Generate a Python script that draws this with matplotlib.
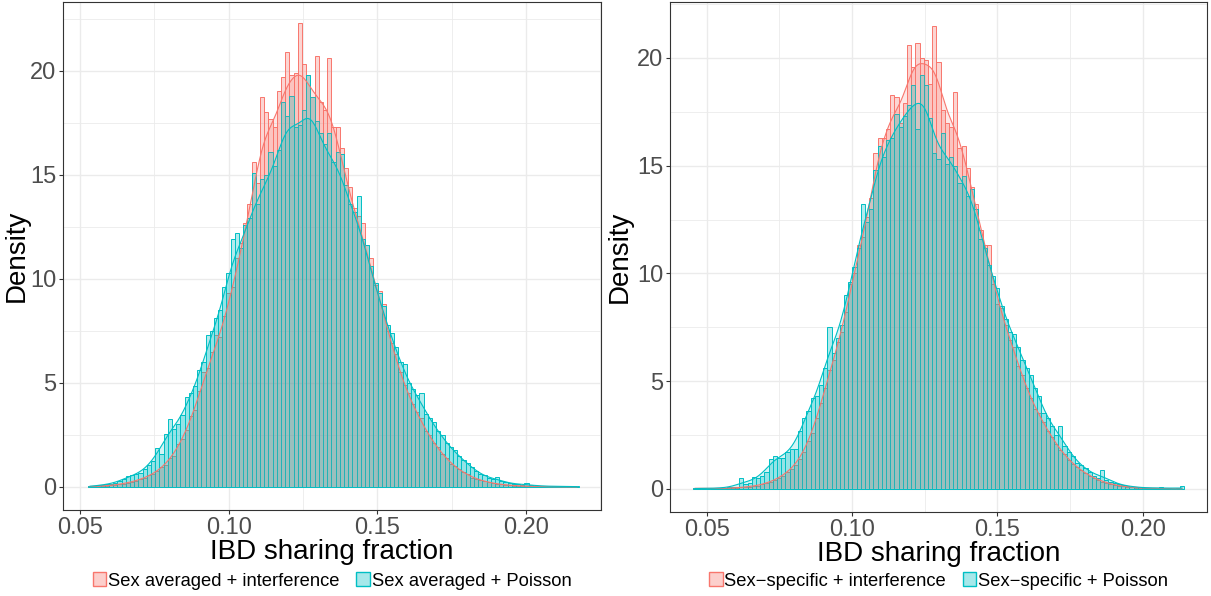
import numpy as np
import matplotlib
matplotlib.use("Agg")
import matplotlib.pyplot as plt
from matplotlib.patches import Patch
from matplotlib.ticker import MultipleLocator
from matplotlib.colors import to_rgba

plt.rcParams["font.family"] = ["Liberation Sans", "DejaVu Sans"]

RED = "#F8766D"
CYAN = "#00BFC4"

# ---- left panel: sex averaged maps (density per bin, 117 bins) ----
left_range = (0.0527, 0.2178)
left_interf = [
    0.05, 0.0, 0.03, 0.05, 0.06, 0.08, 0.10, 0.12, 0.16, 0.20,
    0.25, 0.30, 0.38, 0.42, 0.55, 0.62, 0.75, 0.95, 1.05, 1.40,
    1.50, 2.05, 2.30, 2.75, 3.40, 3.70, 4.60, 5.50, 5.70, 6.50,
    7.30, 7.20, 8.20, 9.30, 9.60, 11.0, 11.7, 12.7, 13.6, 15.6,
    14.6, 18.75, 18.0, 17.7, 17.3, 19.0, 19.7, 20.9, 19.8, 19.9,
    22.3, 20.3, 19.8, 18.75, 20.7, 18.5, 18.1, 20.6, 17.3, 17.3,
    16.3, 15.3, 14.4, 13.4, 13.0, 12.7, 11.6, 11.0, 9.7, 9.4,
    8.8, 7.5, 6.9, 6.4, 5.5, 4.9, 4.5, 4.0, 3.6, 3.3,
    2.7, 2.5, 2.1, 1.9, 1.6, 1.4, 1.1, 1.0, 0.85, 0.70,
    0.60, 0.45, 0.40, 0.33, 0.28, 0.22, 0.18, 0.14, 0.12, 0.10,
    0.08, 0.06, 0.05, 0.05, 0.04, 0.03, 0.03, 0.02, 0.02, 0.01,
    0.01, 0.01, 0.0, 0.01, 0.0, 0.0, 0.01,
]
left_poisson = [
    0.03, 0.05, 0.07, 0.10, 0.12, 0.16, 0.20, 0.26, 0.40, 0.52,
    0.55, 0.62, 0.68, 0.85, 1.05, 1.25, 1.85, 1.60, 2.55, 3.25,
    2.80, 3.00, 3.45, 4.30, 4.50, 4.85, 5.60, 6.00, 7.30, 7.50,
    8.10, 8.50, 9.60, 10.3, 11.9, 12.2, 11.5, 12.6, 12.9, 15.1,
    13.6, 14.8, 15.0, 16.1, 15.4, 16.2, 18.5, 17.8, 18.8, 17.3,
    17.4, 18.1, 19.8, 18.75, 17.6, 17.0, 16.5, 17.0, 15.6, 16.1,
    16.0, 14.5, 13.6, 13.2, 14.0, 11.9, 11.6, 10.6, 9.8, 9.3,
    8.7, 7.8, 7.4, 6.7, 6.0, 5.9, 5.0, 4.7, 4.4, 4.5,
    3.5, 3.3, 3.1, 2.7, 2.5, 2.1, 1.9, 1.75, 1.5, 1.3,
    1.15, 0.95, 0.77, 0.62, 0.55, 0.42, 0.38, 0.48, 0.27, 0.22,
    0.18, 0.15, 0.12, 0.10, 0.19, 0.07, 0.06, 0.04, 0.05, 0.03,
    0.04, 0.02, 0.02, 0.04, 0.01, 0.02, 0.03,
]

# ---- right panel: sex-specific maps ----
right_range = (0.0453, 0.2142)
right_interf = [
    0.05, 0.05, 0.0, 0.01, 0.0, 0.02, 0.01, 0.02, 0.03, 0.03,
    0.05, 0.06, 0.08, 0.10, 0.12, 0.15, 0.20, 0.25, 0.33, 0.40,
    0.50, 0.60, 0.80, 0.90, 1.10, 1.40, 1.70, 2.20, 2.60, 3.30,
    4.00, 4.70, 5.50, 6.00, 6.80, 7.30, 8.20, 9.50, 10.0, 11.3,
    11.7, 12.6, 13.5, 15.6, 16.3, 16.3, 16.7, 18.3, 18.2, 17.0,
    17.9, 20.6, 19.6, 20.7, 20.0, 19.9, 18.8, 21.5, 19.8, 17.6,
    17.0, 16.8, 18.4, 15.8, 15.9, 14.9, 14.0, 13.2, 12.0, 11.3,
    11.3, 9.5, 8.6, 8.4, 7.6, 6.9, 6.6, 5.7, 5.3, 4.7,
    4.2, 3.7, 3.5, 3.1, 2.7, 2.4, 2.1, 1.8, 1.6, 1.35,
    1.15, 1.0, 0.85, 0.72, 0.60, 0.50, 0.42, 0.33, 0.28, 0.22,
    0.18, 0.14, 0.11, 0.09, 0.07, 0.05, 0.05, 0.03, 0.02, 0.02,
    0.01, 0.01, 0.01, 0.0, 0.0, 0.0, 0.01,
]
right_poisson = [
    0.03, 0.0, 0.02, 0.01, 0.03, 0.02, 0.04, 0.05, 0.06, 0.08,
    0.10, 0.50, 0.20, 0.25, 0.55, 0.48, 0.60, 0.80, 1.40, 1.50,
    1.45, 1.45, 1.70, 1.85, 1.85, 2.70, 3.30, 3.60, 4.20, 4.30,
    4.80, 5.60, 7.50, 6.30, 7.00, 7.60, 9.00, 9.60, 10.3, 11.2,
    13.2, 12.4, 13.0, 14.8, 15.9, 15.4, 16.2, 16.3, 17.4, 16.8,
    17.3, 17.8, 18.75, 16.7, 19.2, 18.75, 17.2, 15.6, 15.3, 16.5,
    15.1, 15.4, 15.0, 14.2, 14.5, 13.6, 13.9, 13.0, 11.6, 11.2,
    10.4, 9.9, 9.3, 8.5, 7.9, 7.3, 7.2, 6.6, 6.0, 5.6,
    5.3, 4.7, 4.3, 3.5, 3.3, 2.9, 2.5, 2.9, 2.0, 1.7,
    1.5, 1.2, 1.1, 0.95, 0.80, 0.60, 0.50, 0.85, 0.42, 0.33,
    0.28, 0.20, 0.16, 0.12, 0.10, 0.08, 0.06, 0.04, 0.03, 0.05,
    0.02, 0.06, 0.02, 0.03, 0.01, 0.02, 0.12,
]

left_labels = ["Sex averaged + interference", "Sex averaged + Poisson"]
right_labels = ["Sex\u2212specific + interference", "Sex\u2212specific + Poisson"]

HIST_ALPHA = 0.3
DENS_ALPHA = 0.17
BW = 0.0027


def smooth_density(edges, heights, bw):
    centers = (edges[:-1] + edges[1:]) / 2
    weights = np.asarray(heights) * np.diff(edges)
    weights = weights / weights.sum()
    grid = np.linspace(centers[0], centers[-1], 512)
    k = np.exp(-0.5 * ((grid[:, None] - centers[None, :]) / bw) ** 2) / (bw * np.sqrt(2 * np.pi))
    return grid, k @ weights


def draw_panel(ax, rng, series, colors, xlim, ylim, ylab_x):
    edges = np.linspace(rng[0], rng[1], len(series[0]) + 1)
    centers = (edges[:-1] + edges[1:]) / 2
    w = edges[1] - edges[0]
    for vals, col in zip(series, colors):
        ax.bar(centers, vals, width=w, facecolor=to_rgba(col, HIST_ALPHA),
               edgecolor=col, linewidth=0.7, zorder=2)
    for vals, col in zip(series, colors):
        gx, gy = smooth_density(edges, vals, BW)
        ax.fill_between(gx, 0, gy, facecolor=to_rgba(col, DENS_ALPHA), edgecolor="none", zorder=3)
        ax.plot(gx, gy, color=col, linewidth=0.8, zorder=4)

    ax.set_xlim(*xlim)
    ax.set_ylim(*ylim)
    ax.xaxis.set_major_locator(MultipleLocator(0.05))
    ax.xaxis.set_minor_locator(MultipleLocator(0.025))
    ax.yaxis.set_major_locator(MultipleLocator(5))
    ax.yaxis.set_minor_locator(MultipleLocator(2.5))
    ax.xaxis.set_major_formatter(matplotlib.ticker.FormatStrFormatter("%.2f"))
    ax.grid(True, which="major", color="#EBEBEB", linewidth=1.0, zorder=0)
    ax.grid(True, which="minor", color="#EBEBEB", linewidth=0.6, zorder=0)
    ax.set_axisbelow(True)
    ax.tick_params(which="major", length=3, width=0.8, color="#333333",
                   labelsize=17, labelcolor="#4D4D4D", pad=2)
    ax.tick_params(which="minor", length=0)
    for sp in ax.spines.values():
        sp.set_color("#333333")
        sp.set_linewidth(0.8)
    ax.set_xlabel("IBD sharing fraction", fontsize=20, labelpad=0)
    ax.set_ylabel("Density", fontsize=20)
    ax.yaxis.set_label_coords(ylab_x, 0.5)


fig = plt.figure(figsize=(12.11, 5.96), dpi=100)
ax1 = fig.add_axes([63 / 1211, 1 - 510 / 596, 538 / 1211, 508 / 596])
ax2 = fig.add_axes([670 / 1211, 1 - 512 / 596, 537 / 1211, 510 / 596])

draw_panel(ax1, left_range, [left_interf, left_poisson], [RED, CYAN],
           (0.04428, 0.22524), (-1.11, 23.3), -0.062)
draw_panel(ax2, right_range, [right_interf, right_poisson], [RED, CYAN],
           (0.03738, 0.22210), (-1.08, 22.6), -0.069)

for ax, labels in [(ax1, left_labels), (ax2, right_labels)]:
    handles = [Patch(facecolor=to_rgba(c, 0.35), edgecolor=c, linewidth=1.0) for c in (RED, CYAN)]
    pos = ax.get_position()
    fig.legend(handles, labels, loc="center", ncol=2, frameon=False,
               bbox_to_anchor=(pos.x0 + pos.width / 2, 1 - 581 / 596),
               fontsize=13.2, handlelength=0.75, handleheight=0.75,
               handletextpad=0.1, columnspacing=0.9, borderpad=0.1)

fig.savefig("out.png", dpi=100)
